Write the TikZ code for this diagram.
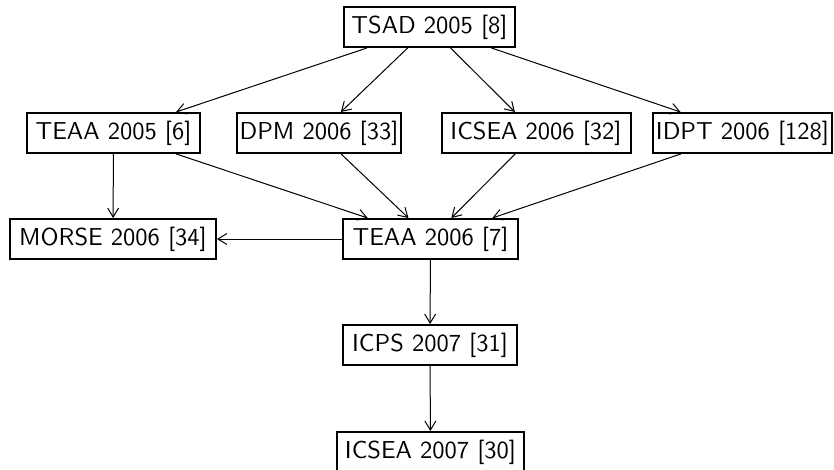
\documentclass[tikz,border=0pt]{standalone}
\usepackage{graphicx}
\usetikzlibrary{arrows.meta}
% paper labels: 10pt sans enlarged as a whole
\newcommand{\paperlabel}[1]{\scalebox{2.45}{\fontsize{10}{12}\selectfont\sffamily #1}}
\begin{document}
\begin{tikzpicture}[x=1pt,y=-1pt,
  paper/.style={draw,line width=2pt,minimum height=40pt,inner sep=0pt},
  cites/.style={-{Straight Barb[length=9pt,width=11pt,line width=1pt]},line width=1pt}]
\useasboundingbox (0,0) rectangle (834,470);
\node[paper,minimum width=171pt] (tsad) at (429.5,27) {\paperlabel{TSAD 2005 [8]}};
\node[paper,minimum width=173pt] (teaa5) at (113.5,133) {\paperlabel{TEAA 2005 [6]}};
\node[paper,minimum width=164pt] (dpm) at (319,133) {\paperlabel{DPM 2006 [33]}};
\node[paper,minimum width=189pt] (icsea6) at (536,133) {\paperlabel{ICSEA 2006 [32]}};
\node[paper,minimum width=179pt] (idpt) at (742.5,133) {\paperlabel{IDPT 2006 [128]}};
\node[paper,minimum width=206pt] (morse) at (113,239) {\paperlabel{MORSE 2006 [34]}};
\node[paper,minimum width=175pt] (teaa6) at (430.5,239) {\paperlabel{TEAA 2006 [7]}};
\node[paper,minimum width=174pt] (icps) at (430,345) {\paperlabel{ICPS 2007 [31]}};
\node[paper,minimum width=187pt] (icsea7) at (430.5,452) {\paperlabel{ICSEA 2007 [30]}};
\draw[cites] (tsad) -- (teaa5);
\draw[cites] (tsad) -- (dpm);
\draw[cites] (tsad) -- (icsea6);
\draw[cites] (tsad) -- (idpt);
\draw[cites] (teaa5) -- (morse);
\draw[cites] (teaa5) -- (teaa6);
\draw[cites] (dpm) -- (teaa6);
\draw[cites] (icsea6) -- (teaa6);
\draw[cites] (idpt) -- (teaa6);
\draw[cites] (teaa6) -- (morse);
\draw[cites] (teaa6) -- (icps);
\draw[cites] (icps) -- (icsea7);
\end{tikzpicture}
\end{document}
